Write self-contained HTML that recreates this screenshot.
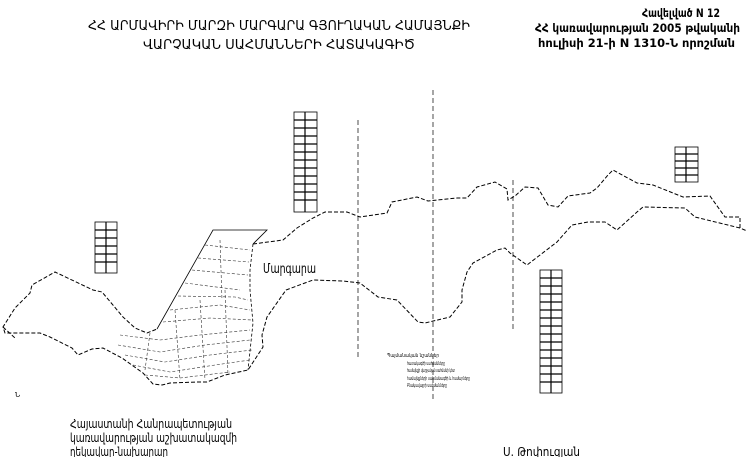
<!DOCTYPE html>
<html><head><meta charset="utf-8"><style>
html,body{margin:0;padding:0;background:#fff;width:755px;height:457px;overflow:hidden}
svg{display:block}
text{font-family:"DejaVu Sans","Liberation Sans",sans-serif;fill:#000}
</style></head><body>
<svg width="755" height="457" viewBox="0 0 755 457" xmlns="http://www.w3.org/2000/svg">
<text x="88" y="30" font-size="13" textLength="382" lengthAdjust="spacingAndGlyphs">ՀՀ ԱՐՄԱՎԻՐԻ ՄԱՐԶԻ ՄԱՐԳԱՐԱ ԳՅՈՒՂԱԿԱՆ ՀԱՄԱՅՆՔԻ</text>
<text x="143" y="49" font-size="13" textLength="272" lengthAdjust="spacingAndGlyphs">ՎԱՐՉԱԿԱՆ ՍԱՀՄԱՆՆԵՐԻ ՀԱՏԱԿԱԳԻԾ</text>
<g font-weight="bold" font-size="11.5">
<text x="642" y="17" textLength="78" lengthAdjust="spacingAndGlyphs">Հավելված N 12</text>
<text x="535" y="32" textLength="205" lengthAdjust="spacingAndGlyphs">ՀՀ կառավարության 2005 թվականի</text>
<text x="538" y="47" textLength="197" lengthAdjust="spacingAndGlyphs">հուլիսի 21-ի N 1310-Ն որոշման</text>
</g>
<g font-size="12">
<text x="70" y="428" textLength="162" lengthAdjust="spacingAndGlyphs">Հայաստանի Հանրապետության</text>
<text x="70" y="442" textLength="167" lengthAdjust="spacingAndGlyphs">կառավարության աշխատակազմի</text>
<text x="70" y="456" textLength="98" lengthAdjust="spacingAndGlyphs">ղեկավար-նախարար</text>
<text x="503" y="456" textLength="77" lengthAdjust="spacingAndGlyphs">Ս. Թոփուզյան</text>
</g>
<text x="263" y="273" font-size="13" textLength="53" lengthAdjust="spacingAndGlyphs">Մարգարա</text>
<g stroke="#000" fill="none" stroke-width="1" stroke-dasharray="4 2">
<polyline points="253,244 283,240 297,228 313,218 325,212 347,212 360,217 387,213 392,202 417,197 428,201 457,198 467,198 477,187 495,182 507,189 508,200 515,196 525,187 538,188 548,205 558,207 568,196 590,193 597,188 608,175 613,170 637,183 653,185 683,197 710,196 725,217 740,217 740,228 747,231"/>
<polyline points="740,228 695,217 685,208 643,207 637,212 617,230 605,222 588,222 572,225 557,242 527,265 510,253 505,248 497,250 473,263 467,272 462,290 462,302 450,317 425,323 418,322 397,300 378,297 360,283 343,281 313,280 286,290 267,317 262,335 263,347 248,370 225,375 207,382 197,382 170,383 162,385 153,384 143,373 122,358 103,348 92,349 78,355 72,348 50,337 40,333 5,333 3,327 15,308 30,293 32,285 55,272 93,290 102,292 123,317 135,328 147,333 157,329"/>
<polyline points="3,327 15,338"/>
</g>
<g stroke="#000" fill="none" stroke-width="0.8">
<polyline points="157,329 213,230 267,230 253,244"/>
<polyline points="253,244 250,270 250,290 253,323 248,370" stroke-dasharray="3 2"/>
</g>
<g stroke="#333" fill="none" stroke-width="0.6" stroke-dasharray="3 2">
<polyline points="205,245 250,250"/><polyline points="198,258 249,262"/><polyline points="192,270 248,275"/>
<polyline points="185,283 240,290"/><polyline points="178,296 235,297 248,300"/><polyline points="170,310 220,305 250,310"/>
<polyline points="163,322 210,318 252,320"/>
<polyline points="120,335 160,340 200,335 250,330"/><polyline points="118,345 160,352 205,345 250,340"/>
<polyline points="125,355 165,362 210,355 252,350"/><polyline points="133,365 170,372 215,365 250,360"/>
<polyline points="145,375 180,378 230,372"/>
<polyline points="175,310 180,380"/><polyline points="200,300 205,380"/><polyline points="225,290 228,375"/>
<polyline points="150,333 145,370"/><polyline points="220,240 222,300"/>
</g>
<g stroke="#000" stroke-width="0.7" stroke-dasharray="5 3">
<line x1="358" y1="120" x2="358" y2="360"/>
<line x1="433" y1="90" x2="433" y2="400"/>
<line x1="513" y1="180" x2="513" y2="330"/>
</g>
<g stroke="#000" fill="#fff" stroke-width="0.8">
<rect x="294" y="112" width="23" height="100"/>
<rect x="95" y="222" width="22" height="51"/>
<rect x="675" y="147" width="23" height="35"/>
<rect x="540" y="270" width="22" height="123"/>
</g>
<g stroke="#000" stroke-width="1.2">
<path d="M294 120h23M294 128h23M294 136h23M294 144h23M294 152h23M294 160h23M294 168h23M294 176h23M294 184h23M294 192h23M294 200h23M305 112v100"/>
<path d="M95 230h22M95 238h22M95 246h22M95 254h22M95 262h22M106 222v51"/>
<path d="M675 154h23M675 161h23M675 168h23M675 175h23M686 147v35"/>
<path d="M540 278h22M540 286h22M540 294h22M540 302h22M540 310h22M540 318h22M540 326h22M540 334h22M540 342h22M540 350h22M540 358h22M540 366h22M540 374h22M540 382h22M551 270v123"/>
</g>
<g font-size="5">
<text x="387" y="357" textLength="52" lengthAdjust="spacingAndGlyphs">Պայմանական նշաններ</text>
<text x="407" y="365" textLength="38" lengthAdjust="spacingAndGlyphs">հատակագծի սահմանները</text>
<text x="407" y="372" textLength="48" lengthAdjust="spacingAndGlyphs">համայնքի վարչական սահմանի կետ</text>
<text x="407" y="380" textLength="63" lengthAdjust="spacingAndGlyphs">համայնքների սահմանագծի և համարները</text>
<text x="407" y="387" textLength="40" lengthAdjust="spacingAndGlyphs">Բնակավայրի սահմանները</text>
<text x="15" y="397" font-size="7">Ն</text>
</g>
</svg>
</body></html>
